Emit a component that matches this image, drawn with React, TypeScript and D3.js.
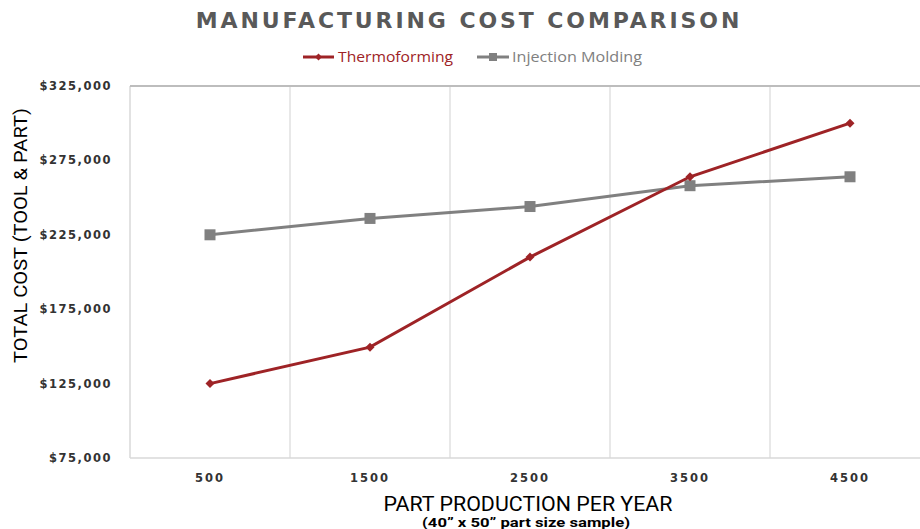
import React from "react";
import * as d3 from "d3";

const categories = ["500", "1500", "2500", "3500", "4500"];
const thermoforming = [125000, 149500, 210000, 264000, 300000];
const injectionMolding = [225000, 236000, 244000, 258000, 264000];
const yTicks = [75000, 125000, 175000, 225000, 275000, 325000];

const W = 920;
const H = 529;
const left = 130;
const top = 86;
const bottom = 458;
const bandW = 160;

export default function App() {
  const x = d3
    .scaleBand<string>()
    .domain(categories)
    .range([left, left + bandW * categories.length]);
  const y = d3.scaleLinear().domain([75000, 325000]).range([bottom, top]);
  const cx = (c: string) => (x(c) as number) + x.bandwidth() / 2;
  const fmt = (v: number) => "$" + d3.format(",")(v);

  const line = d3
    .line<number>()
    .x((_, i) => cx(categories[i]))
    .y((d) => y(d));

  const red = "#9e2326";
  const gray = "#808080";
  const right = left + bandW * categories.length;

  return (
    <svg
      width={W}
      height={H}
      style={{ position: "absolute", left: 0, top: 0, background: "#fff" }}
    >
      <rect x={0} y={0} width={W} height={H} fill="#fff" />
      <text
        x={469}
        y={28}
        textAnchor="middle"
        fontFamily="DejaVu Sans"
        fontWeight="bold"
        fontSize={22}
        letterSpacing={2.9}
        fill="#595959"
      >
        MANUFACTURING COST COMPARISON
      </text>

      {/* legend */}
      <line x1={303} x2={334} y1={57} y2={57} stroke={red} strokeWidth={3} />
      <path d="M318.5,53.5 L322,57 L318.5,60.5 L315,57 Z" fill={red} />
      <text x={338} y={62} fontFamily="Open Sans" fontSize={15} fill={red} textLength={115} lengthAdjust="spacingAndGlyphs">
        Thermoforming
      </text>
      <line x1={477} x2={509} y1={57} y2={57} stroke={gray} strokeWidth={3} />
      <rect x={489} y={53} width={8} height={8} fill={gray} />
      <text x={512} y={62} fontFamily="Open Sans" fontSize={15} fill={gray} textLength={130} lengthAdjust="spacingAndGlyphs">
        Injection Molding
      </text>

      {/* gridlines */}
      {categories.slice(1).map((c) => (
        <line
          key={c}
          x1={x(c) as number}
          x2={x(c) as number}
          y1={top}
          y2={bottom}
          stroke="#d9d9d9"
          strokeWidth={1.2}
        />
      ))}
      <line x1={left} x2={left} y1={top} y2={bottom} stroke="#d9d9d9" strokeWidth={1.5} />
      <line x1={left} x2={right} y1={bottom} y2={bottom} stroke="#d9d9d9" strokeWidth={1.5} />
      <line x1={left} x2={right} y1={top} y2={top} stroke="#bdbdbd" strokeWidth={2} />

      {/* y ticks */}
      {yTicks.map((t) => (
        <text
          key={t}
          x={112}
          y={y(t) + 4}
          textAnchor="end"
          fontFamily="DejaVu Sans"
          fontWeight="bold"
          fontSize={11.5}
          letterSpacing={1.5}
          fill="#333"
        >
          {fmt(t)}
        </text>
      ))}

      {/* x ticks */}
      {categories.map((c) => (
        <text
          key={c}
          x={cx(c)}
          y={482}
          textAnchor="middle"
          fontFamily="DejaVu Sans"
          fontWeight="bold"
          fontSize={11.5}
          letterSpacing={2}
          fill="#333"
        >
          {c}
        </text>
      ))}

      {/* axis titles */}
      <text
        x={528}
        y={511}
        textAnchor="middle"
        fontFamily="Roboto"
        fontSize={20}
        fill="#000"
        textLength={289}
        lengthAdjust="spacingAndGlyphs"
      >
        PART PRODUCTION PER YEAR
      </text>
      <text
        x={526}
        y={527}
        textAnchor="middle"
        fontFamily="Roboto"
        fontWeight="bold"
        fontSize={12.5}
        fill="#000"
        textLength={208}
        lengthAdjust="spacingAndGlyphs"
      >
        (40” x 50” part size sample)
      </text>
      <text
        transform={`translate(27,235.5) rotate(-90)`}
        textAnchor="middle"
        fontFamily="Roboto"
        fontSize={19}
        fill="#000"
        textLength={255}
        lengthAdjust="spacingAndGlyphs"
      >
        TOTAL COST (TOOL &amp; PART)
      </text>

      {/* series */}
      <path d={line(injectionMolding) || ""} fill="none" stroke={gray} strokeWidth={3} />
      {injectionMolding.map((v, i) => (
        <rect
          key={i}
          x={cx(categories[i]) - 5.5}
          y={y(v) - 5.5}
          width={11}
          height={11}
          fill={gray}
        />
      ))}
      <path d={line(thermoforming) || ""} fill="none" stroke={red} strokeWidth={3} />
      {thermoforming.map((v, i) => {
        const px = cx(categories[i]);
        const py = y(v);
        return (
          <path
            key={i}
            d={`M${px},${py - 4.5} L${px + 4.5},${py} L${px},${py + 4.5} L${px - 4.5},${py} Z`}
            fill={red}
          />
        );
      })}
    </svg>
  );
}
